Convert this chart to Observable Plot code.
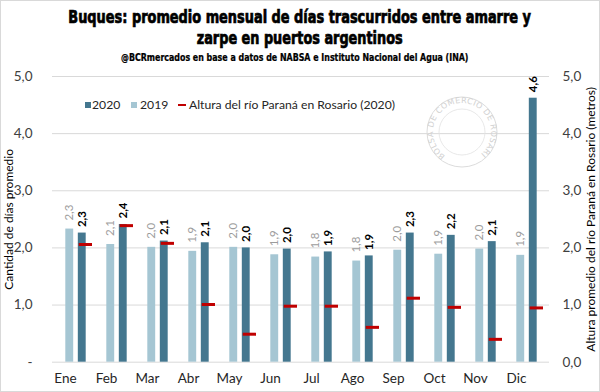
<!DOCTYPE html>
<html><head><meta charset="utf-8">
<script src="https://cdn.jsdelivr.net/npm/d3@7"></script>
<script src="https://cdn.jsdelivr.net/npm/@observablehq/plot@0.6"></script>
<style>
body{margin:0;background:#fff;}
#wrap{position:relative;width:600px;height:392px;overflow:hidden;font-family:Lato,"Open Sans",sans-serif;background:#fff;}
#frame{position:absolute;left:0;top:0;width:598px;height:390px;border:1px solid #d9d9d9;pointer-events:none;}
#head{height:68px;}
#head svg,#chart svg{display:block;}
.lg{position:absolute;font-size:12.2px;line-height:16px;color:#262626;white-space:nowrap;}
.sw{position:absolute;width:6px;height:6px;}
#seal{position:absolute;left:410px;top:80px;pointer-events:none;overflow:visible;}
</style></head>
<body>
<div id="wrap">
  <div id="head">
    <svg width="600" height="68" font-family="'Liberation Sans Narrow','DejaVu Sans Condensed',sans-serif" font-weight="bold" fill="#000" style="overflow:visible">
      <text class="fit" data-x="68.3" data-w="463" y="22.7" font-size="17.5" stroke="#000" stroke-width="0.7">Buques: promedio mensual de días trascurridos entre amarre y</text>
      <text class="fit" data-x="196.7" data-w="206" y="44.2" font-size="17.5" stroke="#000" stroke-width="0.7">zarpe en puertos argentinos</text>
      <text class="fit" data-x="121" data-w="348" y="60.7" font-size="10.5" stroke="#000" stroke-width="0.25">@BCRmercados en base a datos de NABSA e Instituto Nacional del Agua (INA)</text>
    </svg>
  </div>
  <div id="chart"></div>
  <svg id="seal" width="104" height="104" viewBox="-10 -10 104 104">
    <defs><path id="arcp" d="M 25.4 65.8 A 29 29 0 1 1 58.6 65.8"/></defs>
    <circle cx="42" cy="42" r="35" fill="none" stroke="#dcdcdc" stroke-width="1"/>
    <circle cx="42" cy="42" r="23" fill="none" stroke="#e2e2e2" stroke-width="0.8"/>
    <text font-size="8" fill="#d2d2d2" font-family="'DejaVu Sans',sans-serif" letter-spacing="0.4"><textPath href="#arcp">BOLSA DE COMERCIO DE ROSARIO</textPath></text>
  </svg>
  <div class="sw" style="left:85px;top:102px;background:#44778f"></div>
  <div class="lg" style="left:92px;top:97px">2020</div>
  <div class="sw" style="left:131px;top:102px;background:#a5c6d3"></div>
  <div class="lg" style="left:140px;top:97px">2019</div>
  <div class="sw" style="left:178px;top:104px;width:8px;height:2px;background:#c00000"></div>
  <div class="lg" style="left:189px;top:97px">Altura del río Paraná en Rosario (2020)</div>
  <div id="frame"></div>
</div>
<script>
const months = ["Ene","Feb","Mar","Abr","May","Jun","Jul","Ago","Sep","Oct","Nov","Dic"];
const v2019 = [2.33, 2.06, 2.01, 1.94, 2.01, 1.88, 1.84, 1.77, 1.96, 1.89, 1.98, 1.87];
const v2020 = [2.26, 2.41, 2.12, 2.09, 2.00, 1.98, 1.93, 1.86, 2.26, 2.22, 2.11, 4.62];
const river = [2.06, 2.39, 2.08, 1.01, 0.49, 0.98, 0.98, 0.61, 1.12, 0.96, 0.40, 0.95];
const yTicks = [0, 1, 2, 3, 4, 5];

// fit title lines to the reference widths by horizontal scaling
document.querySelectorAll("text.fit").forEach(t => {
  const w = t.getComputedTextLength();
  const target = +t.dataset.w, x0 = +t.dataset.x;
  const s = target / w;
  t.setAttribute("x", 0);
  t.setAttribute("transform", `translate(${x0},0) scale(${s},1)`);
});

const data = months.map((m, i) => ({month: m, v2019: v2019[i], v2020: v2020[i], river: river[i]}));
const fmt = d => d.toFixed(1).replace(".", ",");
const bw = 497 / 12;

const chart = Plot.plot({
  width: 600, height: 324,
  marginTop: 8, marginBottom: 30.3, marginLeft: 52, marginRight: 51,
  style: {fontFamily: "Lato, 'Open Sans', sans-serif", background: "#fff", overflow: "visible"},
  x: {type: "band", domain: months, padding: 0, label: null},
  y: {domain: [0, 5], label: null},
  marks: [
    Plot.ruleY(yTicks, {stroke: "#d9d9d9", strokeWidth: 1}),
    Plot.barY(data, {x: "month", y: "v2019", fill: "#a5c6d3", insetLeft: bw/2 - 10.4, insetRight: bw/2 + 2.1}),
    Plot.barY(data, {x: "month", y: "v2020", fill: "#44778f", insetLeft: bw/2 + 2.1, insetRight: bw/2 - 10.4}),
    Plot.tickY(data, {x: "month", y: "river", stroke: "#c00000", strokeWidth: 3, insetLeft: bw/2 + 3, insetRight: bw/2 - 16.7}),
    Plot.text(data, {x: "month", y: "v2019", text: d => fmt(d.v2019), rotate: -90, textAnchor: "start", lineAnchor: "middle", dx: -6.25, dy: -8.5, fill: "#9c9c9c", fontSize: 11.5}),
    Plot.text(data, {x: "month", y: "v2020", text: d => fmt(d.v2020), rotate: -90, textAnchor: "start", lineAnchor: "middle", dx: 6.5, dy: -6, fill: "#000", fontWeight: "bold", fontSize: 11.5}),
    Plot.axisY({anchor: "left", ticks: yTicks, tickFormat: d => d === 0 ? "-" : fmt(d), tickSize: 0, tickPadding: 20, fontSize: 13.5, color: "#404040", label: null}),
    Plot.axisY({anchor: "right", ticks: yTicks, tickFormat: fmt, tickSize: 0, tickPadding: 13, fontSize: 13.5, color: "#404040", label: null}),
    Plot.axisX({tickSize: 0, tickPadding: 11, dx: -10.5, fontSize: 13.5, color: "#262626", label: null}),
    Plot.text(["Cantidad de días promedio"], {frameAnchor: "left", textAnchor: "middle", lineAnchor: "middle", dx: -43, rotate: -90, text: d => d, fontSize: 12, fill: "#000"}),
    Plot.text(["Altura promedio del río Paraná en Rosario (metros)"], {frameAnchor: "right", textAnchor: "middle", lineAnchor: "middle", dx: 42, rotate: -90, text: d => d, fontSize: 12, fill: "#000"})
  ]
});
document.getElementById("chart").appendChild(chart);
</script>
</body></html>
